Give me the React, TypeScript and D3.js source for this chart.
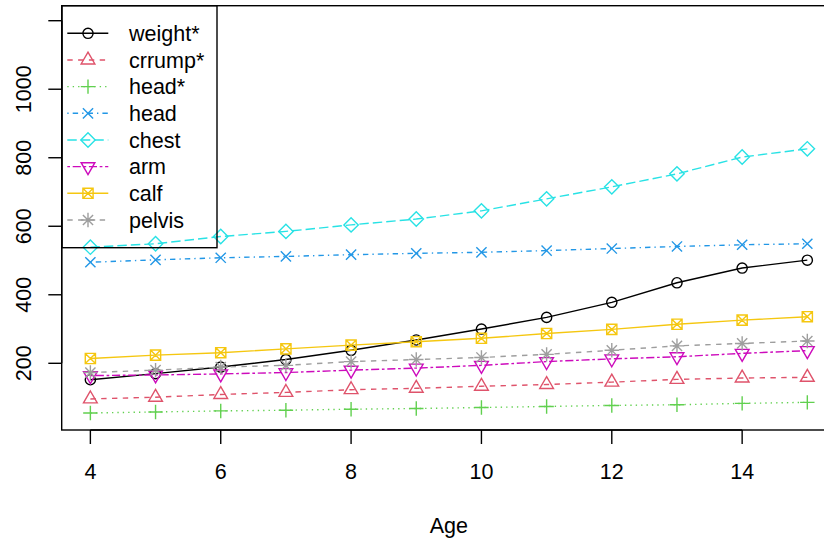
import React from "react";
import * as d3 from "d3";

const ages = [4, 5, 6, 7, 8, 9, 10, 11, 12, 13, 14, 15];
const seriesNames = ["weight*", "crrump*", "head*", "head", "chest", "arm", "calf", "pelvis"];
const weightS = [152, 170, 189, 211, 238, 268, 300, 334, 378, 435, 478, 501];
const crrumpS = [96, 101, 109, 115, 123, 127, 133, 138, 145, 153, 157, 159];
const headStarS = [55, 58, 61, 63, 66, 68, 71, 74, 77, 79, 83, 86];
const headS = [495, 502, 508, 512, 517, 521, 524, 529, 535, 541, 546, 549];
const chestS = [539, 549, 570, 585, 604, 621, 645, 680, 715, 753, 802, 826];
const armS = [164, 166, 169, 173, 180, 186, 194, 205, 213, 219, 229, 237];
const calfS = [214, 224, 231, 242, 253, 263, 273, 287, 299, 314, 326, 336];
const pelvisS = [173, 180, 189, 194, 205, 211, 217, 226, 238, 251, 258, 265];
const seriesValues = [weightS, crrumpS, headStarS, headS, chestS, armS, calfS, pelvisS];
const xTicks = [4, 6, 8, 10, 12, 14];
const yTicks = [200, 400, 600, 800, 1000, 1200];
const yTickLabels = ["200", "400", "600", "800", "1000", ""];
const xLabel = "Age";

const colors = ["#000000", "#DF536B", "#61D04F", "#2297E6", "#28E2E5", "#CD0BBC", "#F5C710", "#9E9E9E"];
const U = 1.35;
const dashes = [
  "none",
  `${4 * U} ${4 * U}`,
  `${1 * U} ${3 * U}`,
  `${1 * U} ${3 * U} ${4 * U} ${3 * U}`,
  `${7 * U} ${3 * U}`,
  `${2 * U} ${2 * U} ${6 * U} ${2 * U}`,
  "none",
  `${4 * U} ${4 * U}`,
];

const FONT = "'Liberation Sans', Arial, Helvetica, sans-serif";
const FS = 21.5;
const LW = 1.4;
const XC = 5.1;

function markerPath(pch: number, x: number, y: number): string {
  const xc = XC;
  const s2 = Math.SQRT2 * xc;
  const r = 1.555 * xc, h = 1.347 * xc, yc = 0.778 * xc;
  switch (pch) {
    case 1: {
      const p = d3.path();
      p.moveTo(x + xc, y);
      p.arc(x, y, xc, 0, Math.PI * 2);
      return p.toString();
    }
    case 2:
      return `M${x},${y - r}L${x + h},${y + yc}L${x - h},${y + yc}Z`;
    case 3:
      return `M${x - s2},${y}L${x + s2},${y}M${x},${y - s2}L${x},${y + s2}`;
    case 4:
      return `M${x - xc},${y - xc}L${x + xc},${y + xc}M${x - xc},${y + xc}L${x + xc},${y - xc}`;
    case 5:
      return `M${x},${y - s2}L${x + s2},${y}L${x},${y + s2}L${x - s2},${y}Z`;
    case 6:
      return `M${x},${y + r}L${x + h},${y - yc}L${x - h},${y - yc}Z`;
    case 7:
      return `M${x - xc},${y - xc}H${x + xc}V${y + xc}H${x - xc}Z` +
        `M${x - xc},${y - xc}L${x + xc},${y + xc}M${x - xc},${y + xc}L${x + xc},${y - xc}`;
    case 8:
      return `M${x - xc},${y - xc}L${x + xc},${y + xc}M${x - xc},${y + xc}L${x + xc},${y - xc}` +
        `M${x - s2},${y}L${x + s2},${y}M${x},${y - s2}L${x},${y + s2}`;
    default:
      return "";
  }
}

export default function App() {
  const W = 824, H = 539;
  const left = 61.7, right = 836, top = 5.7, bottom = 430;
  const x = d3.scaleLinear().domain([3.56, 15.44]).range([left, right]);
  const y = d3.scaleLinear().domain([5.3, 1243.8]).range([bottom, top]);
  const line = d3.line<number>().x((_, i) => x(ages[i])).y((v) => y(v));

  // legend geometry
  const lgLeft = 62, lgRight = 217, lgTop = 5.7, lgBottom = 247.7;
  const rowY0 = 33.3, rowStep = 26.67;
  const segX0 = 67.3, segX1 = 108.3, symX = 88, textX = 129;

  return (
    <svg width={W} height={H} style={{ position: "absolute", left: 0, top: 0, background: "#fff" }}
      fontFamily={FONT}>
      <rect x={0} y={0} width={W} height={H} fill="#fff" />
      {seriesValues.map((vals, si) => (
        <g key={si}>
          <path d={line(vals) || ""} fill="none" stroke={colors[si]} strokeWidth={LW}
            strokeDasharray={dashes[si]} />
          {vals.map((v, i) => (
            <path key={i} d={markerPath(si + 1, x(ages[i]), y(v))} fill="none"
              stroke={colors[si]} strokeWidth={LW} />
          ))}
        </g>
      ))}
      {/* box */}
      <rect x={left} y={top} width={right - left} height={bottom - top} fill="none" stroke="#000" strokeWidth={LW} />
      {/* x axis */}
      <line x1={x(xTicks[0])} x2={x(xTicks[xTicks.length - 1])} y1={bottom} y2={bottom} stroke="#000" strokeWidth={LW} />
      {xTicks.map((t) => (
        <g key={t}>
          <line x1={x(t)} x2={x(t)} y1={bottom} y2={bottom + 14} stroke="#000" strokeWidth={LW} />
          <text x={x(t)} y={479} textAnchor="middle" fontSize={FS}>{t}</text>
        </g>
      ))}
      <text x={(left + right) / 2} y={533} textAnchor="middle" fontSize={FS}>{xLabel}</text>
      {/* y axis */}
      <line x1={left} x2={left} y1={y(yTicks[0])} y2={y(yTicks[yTicks.length - 1])} stroke="#000" strokeWidth={LW} />
      {yTicks.map((t, i) => (
        <g key={t}>
          <line x1={left - 13.4} x2={left} y1={y(t)} y2={y(t)} stroke="#000" strokeWidth={LW} />
          {yTickLabels[i] && (
            <text transform={`translate(30.7,${y(t)}) rotate(-90)`} textAnchor="middle" fontSize={FS}>
              {yTickLabels[i]}
            </text>
          )}
        </g>
      ))}
      {/* legend */}
      <rect x={lgLeft} y={lgTop} width={lgRight - lgLeft} height={lgBottom - lgTop} fill="none"
        stroke="#000" strokeWidth={LW} />
      {seriesNames.map((name, i) => {
        const ry = rowY0 + i * rowStep;
        return (
          <g key={name}>
            <line x1={segX0} x2={segX1} y1={ry} y2={ry} stroke={colors[i]} strokeWidth={LW}
              strokeDasharray={dashes[i]} />
            <path d={markerPath(i + 1, symX, ry)} fill="none" stroke={colors[i]} strokeWidth={LW} />
            <text x={textX} y={ry + 7.7} fontSize={FS}>{name}</text>
          </g>
        );
      })}
    </svg>
  );
}
